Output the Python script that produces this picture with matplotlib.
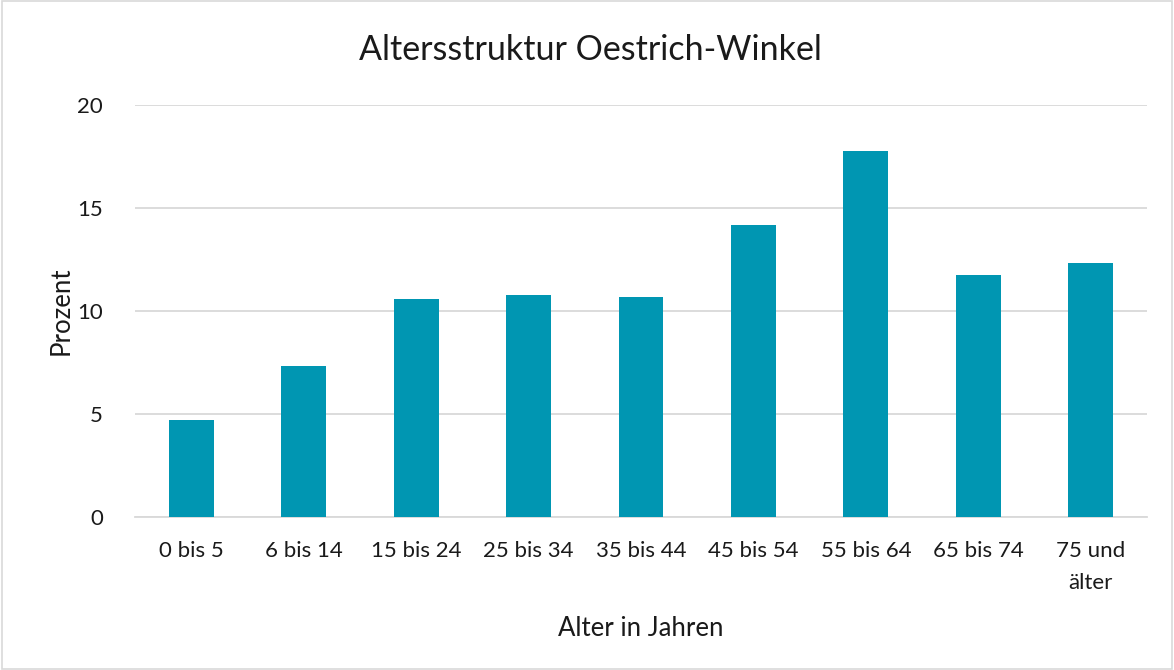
import matplotlib
matplotlib.use("Agg")
import matplotlib.pyplot as plt
from matplotlib.patches import Rectangle

plt.rcParams['font.family'] = ['Lato', 'DejaVu Sans']

categories = ["0 bis 5", "6 bis 14", "15 bis 24", "25 bis 34", "35 bis 44",
              "45 bis 54", "55 bis 64", "65 bis 74", "75 und\nälter"]
values = [4.7, 7.33, 10.58, 10.78, 10.68, 14.17, 17.77, 11.75, 12.33]
yticks = [0, 5, 10, 15, 20]

fig = plt.figure(figsize=(11.74, 6.70), dpi=100)
ax = fig.add_axes([0.115, 0.2284, 0.862, 0.6149])

x = range(len(categories))
ax.bar(x, values, width=0.4, color="#0096B2", zorder=3)

ax.set_xlim(-0.5, len(categories) - 0.5)
ax.set_ylim(0, 20)
ax.set_yticks(yticks)
ax.set_xticks(list(x))
ax.set_xticklabels(categories, fontsize=16, color="#1a1a1a", linespacing=1.75,
                   va="top")
ax.tick_params(axis='y', labelsize=16, labelcolor="#1a1a1a", length=0, pad=23)
ax.tick_params(axis='x', length=0, pad=17)
ax.grid(axis='y', color="#d9d9d9", linewidth=1.3, zorder=0)
for s in ["top", "right", "left"]:
    ax.spines[s].set_visible(False)
ax.spines["bottom"].set_color("#d9d9d9")
ax.spines["bottom"].set_linewidth(1.3)

ax.set_xlabel("Alter in Jahren", fontsize=18.5, color="#1a1a1a", labelpad=17)
ax.set_ylabel("Prozent", fontsize=18.5, color="#1a1a1a", labelpad=3)
fig.text(0.503, 0.925, "Altersstruktur Oestrich-Winkel", fontsize=24.5,
         ha="center", va="center", color="#1a1a1a")

fig.patches.append(Rectangle((0.002, 0.002), 0.996, 0.996, transform=fig.transFigure,
                             fill=False, edgecolor="#d9d9d9", linewidth=1.2))

fig.savefig("out.png", dpi=100)
